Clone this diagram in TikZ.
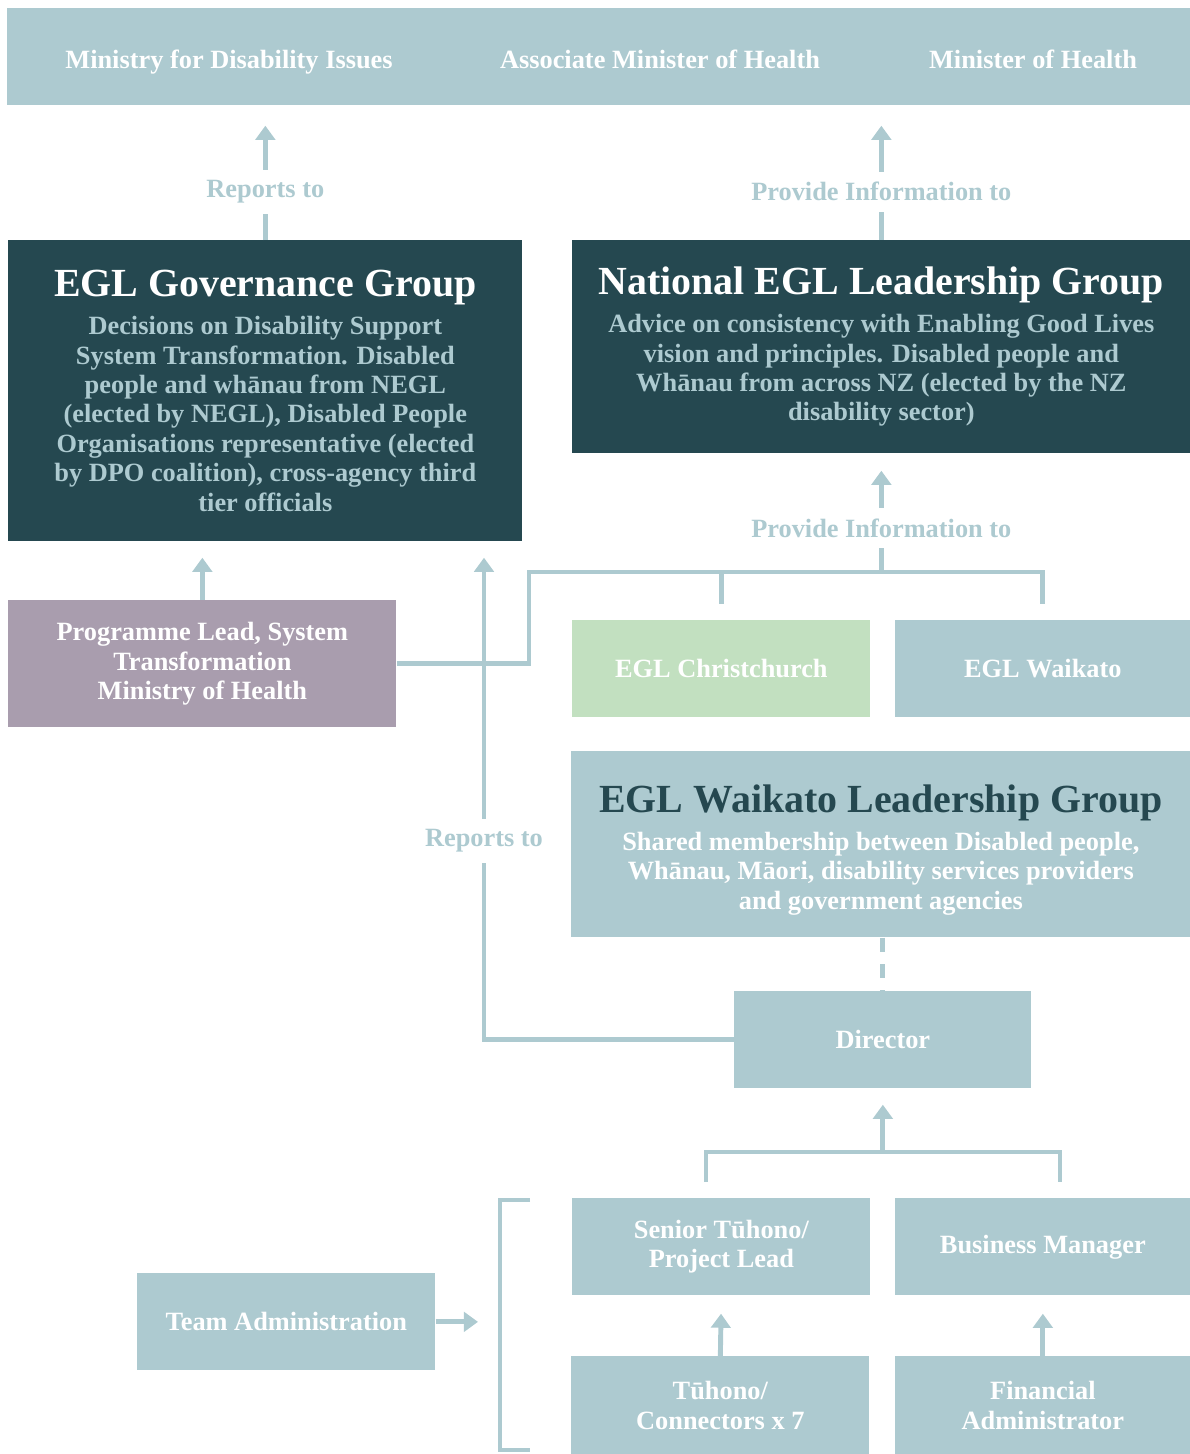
\documentclass[tikz,border=0pt]{standalone}
\usepackage{fontspec}
\setmainfont{Liberation Serif}
\usepackage{xcolor}
\usetikzlibrary{calc}
\usetikzlibrary{arrows.meta}
\definecolor{egllight}{HTML}{ADCAD0}
\definecolor{egldark}{HTML}{254850}
\definecolor{eglmauve}{HTML}{A99DAE}
\definecolor{eglgreen}{HTML}{C2E0C0}
\newcommand{\pxu}{0.02cm}
\newcommand{\titlesize}{\fontsize{22.7}{24}\selectfont}
\tikzset{
	box/.style={anchor=north west, inner sep=0pt, align=center, fill=egllight, text=white,
			font=\bfseries\fontsize{15}{16.7}\selectfont},
	darkbox/.style={box, fill=egldark, text=egllight},
	bannertext/.style={anchor=base, text=white, font=\bfseries\fontsize{15}{16.7}\selectfont},
	lbl/.style={fill=white, text=egllight, inner xsep=3pt, inner ysep=6pt,
			font=\bfseries\fontsize{15}{16.7}\selectfont},
	link/.style={draw=egllight, line width=2.8pt},
	arrow/.style={link, -{Triangle[width=11pt,length=8pt]}}
}

\begin{document}
\begin{tikzpicture}[x=0.02cm, y=-0.02cm]
	\useasboundingbox (0,0) rectangle (1190,1454);

	% Top banner with the three ministers
	\node[box, minimum width=1183*\pxu, minimum height=97*\pxu] (banner) at (7,8) {};
	\node[bannertext] (mdi) at (229,68) {Ministry for Disability Issues};
	\node[bannertext] (ami) at (660,68) {Associate Minister of Health};
	\node[bannertext] (moh) at (1033,68) {Minister of Health};

	% Governance and national groups
	\node[darkbox, minimum width=514*\pxu, minimum height=301*\pxu] (gov) at (8,240)
		{{\titlesize\color{white}EGL Governance Group}\\[5pt]
			Decisions on Disability Support\\
			System Transformation. Disabled\\
			people and whānau from NEGL\\
			(elected by NEGL), Disabled People\\
			Organisations representative (elected\\
			by DPO coalition), cross-agency third\\
			tier officials};
	\node[darkbox, minimum width=618*\pxu, minimum height=213*\pxu] (nat) at (572,240)
		{{\titlesize\color{white}National EGL Leadership Group}\\[5pt]
			Advice on consistency with Enabling Good Lives\\
			vision and principles. Disabled people and\\
			Whānau from across NZ (elected by the NZ\\
			disability sector)};

	% Programme lead and the two EGL sites
	\node[box, fill=eglmauve, minimum width=388*\pxu, minimum height=127*\pxu] (prog) at (8,600)
		{Programme Lead, System\\ Transformation\\ Ministry of Health};
	\node[box, fill=eglgreen, minimum width=298*\pxu, minimum height=97*\pxu] (chch) at (572,620) {EGL Christchurch};
	\node[box, minimum width=295*\pxu, minimum height=97*\pxu] (waik) at (895,620) {EGL Waikato};

	% Waikato leadership group and director
	\node[box, minimum width=619*\pxu, minimum height=186*\pxu] (wlg) at (571,751)
		{{\titlesize\color{egldark}\rule{0pt}{22pt}EGL Waikato Leadership Group}\\[5pt]
			Shared membership between Disabled people,\\
			Whānau, Māori, disability services providers\\
			and government agencies};
	\node[box, minimum width=297*\pxu, minimum height=97*\pxu] (dir) at (734,991) {Director};

	% Team
	\node[box, minimum width=298*\pxu, minimum height=97*\pxu] (senior) at (572,1198) {Senior Tūhono/\\ Project Lead};
	\node[box, minimum width=295*\pxu, minimum height=97*\pxu] (bman) at (895,1198) {Business Manager};
	\node[box, minimum width=298*\pxu, minimum height=98*\pxu] (conn) at (571,1356) {Tūhono/\\ Connectors x 7};
	\node[box, minimum width=295*\pxu, minimum height=98*\pxu] (fin) at (895,1356) {Financial\\ Administrator};
	\node[box, minimum width=298*\pxu, minimum height=97*\pxu] (team) at (137,1273) {Team Administration};

	% Junction points
	\coordinate (infoL) at (529,572);
	\coordinate (teamL) at (706,1152);
	\coordinate (teamR) at (1060,1152);
	\coordinate (repx) at (484,0);
	\coordinate (brtop) at (530,1200);
	\coordinate (brbot) at (530,1450);

	% Arrows to the ministers
	\draw[arrow, shorten >=20*\pxu] (gov.north) -- (gov.north |- banner.south)
		node[lbl, pos=.36] (rep1) {Reports to};
	\draw[arrow, shorten >=20*\pxu] (nat.north) -- (nat.north |- banner.south)
		node[lbl, pos=.36] (info1) {Provide Information to};

	% Lines to the national group
	\draw[link] (prog.east) -| (infoL) -| ($(waik.north)+(0,-16)$);
	\draw[link] (chch.north |- infoL) -- ($(chch.north)+(0,-16)$);
	\draw[arrow, shorten >=17*\pxu] (infoL -| nat.south) -- (nat.south)
		node[lbl, pos=.37] (info2) {Provide Information to};

	% Lines to the governance group
	\draw[arrow, shorten >=16*\pxu] (prog.north) -- (prog.north |- gov.south);
	\draw[arrow, shorten >=16*\pxu] (dir.west) -| (repx |- gov.south)
		node[lbl, pos=.70] (rep2) {Reports to};

	% Director
	\draw[link, dash pattern=on 8pt off 7pt] (dir.north |- wlg.south) -- (dir.north);
	\draw[link] ($(teamL)+(0,30)$) |- (teamR) -- ++(0,30);
	\draw[arrow, shorten >=16*\pxu] (teamL -| dir.south) -- (dir.south);
	\draw[arrow, shorten >=18*\pxu] (conn.north) -- (senior.south);
	\draw[arrow, shorten >=18*\pxu] (fin.north) -- (bman.south);

	% Bracket round the team
	\draw[link] (brtop) -- ++(-30,0) |- (brbot);
	\draw[arrow, shorten >=52*\pxu] (team.east) -- (team.east -| brtop);
\end{tikzpicture}
\end{document}
